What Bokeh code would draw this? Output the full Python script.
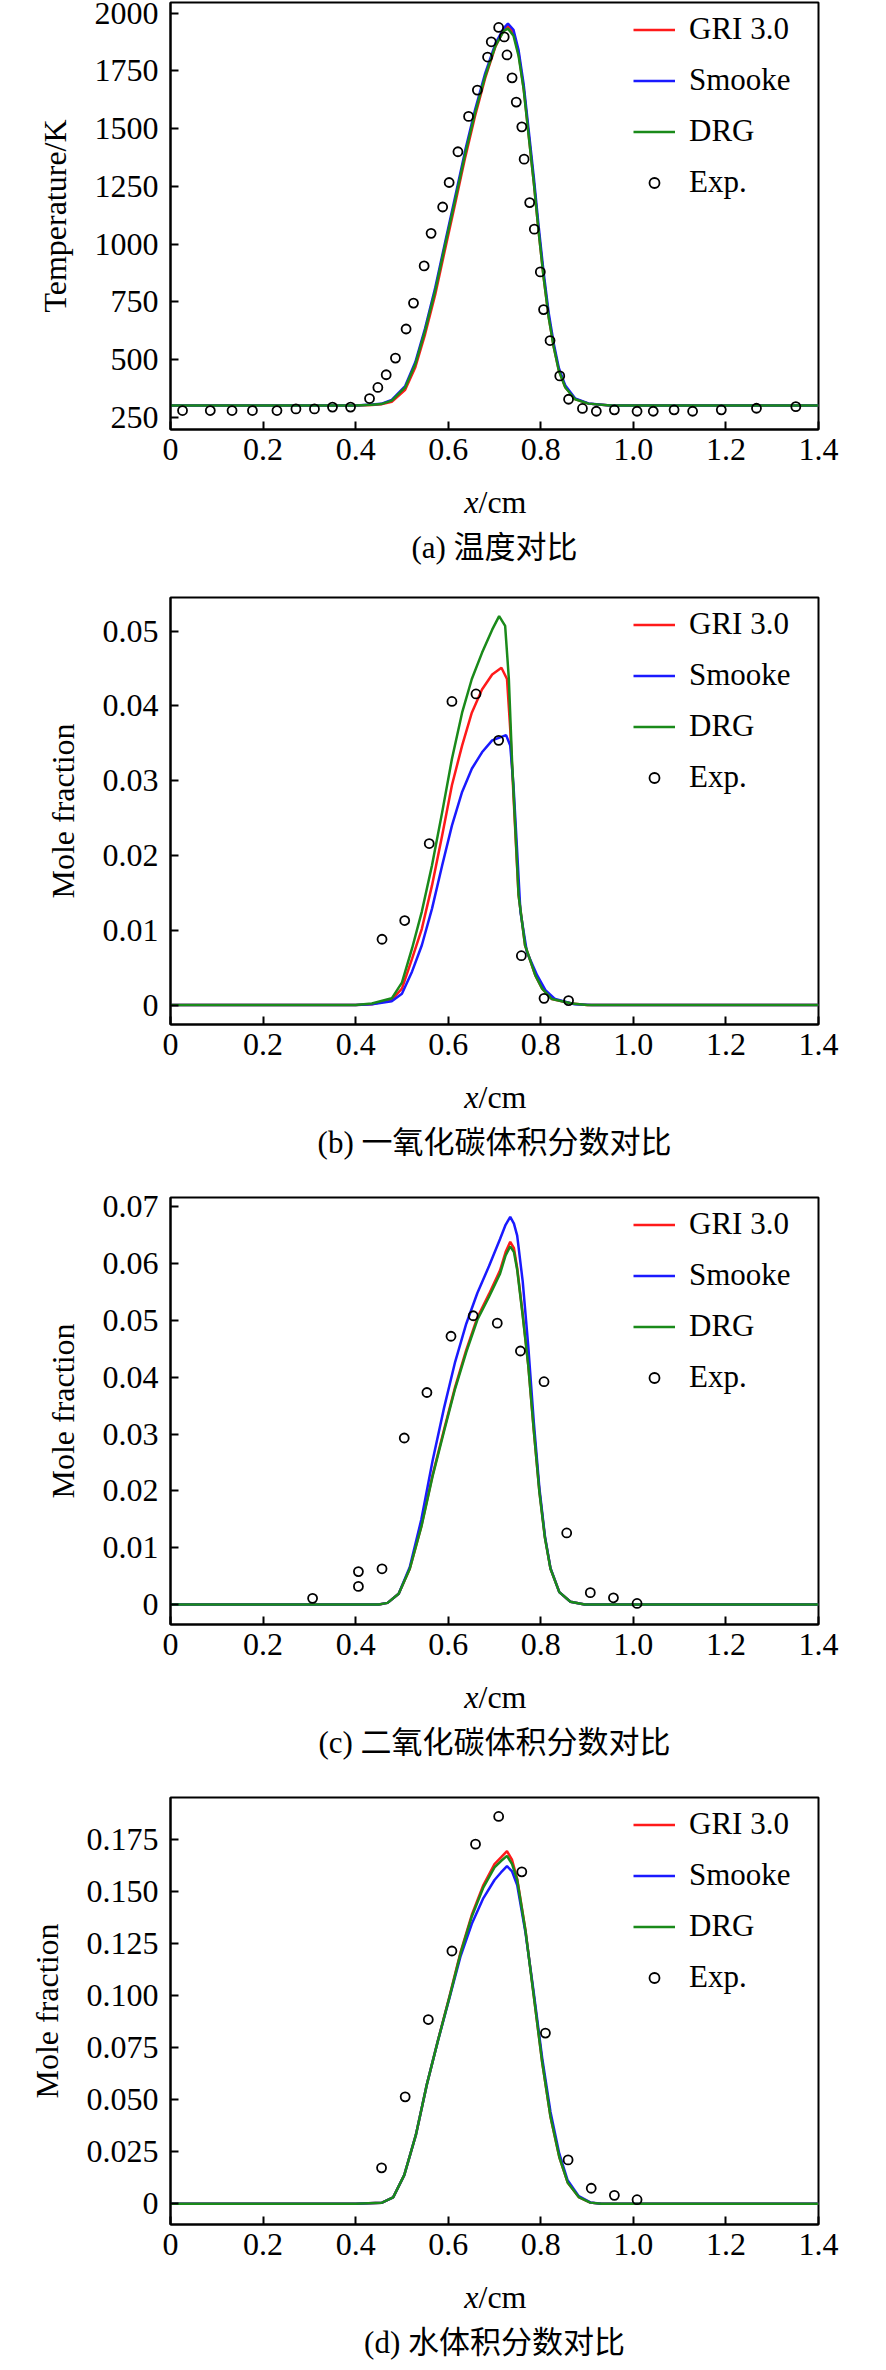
from bokeh.plotting import figure
from bokeh.layouts import column
from bokeh.models import FixedTicker, Range1d
from bokeh.core.properties import value
from bokeh.embed import file_html
from bokeh.resources import INLINE

# ---- (a) temperature ----
a_x = [0, 0.40, 0.435, 0.455, 0.478, 0.507, 0.529, 0.550, 0.572, 0.594, 0.615, 0.637, 0.658,
       0.680, 0.702, 0.720, 0.729, 0.741, 0.752, 0.763, 0.774, 0.785, 0.795, 0.806, 0.817,
       0.828, 0.839, 0.853, 0.874, 0.903, 0.95, 1.4]
a_gri = [302, 302, 304, 307, 318, 370, 468, 610, 782, 985, 1175, 1378, 1555, 1720, 1855, 1928,
         1945, 1915, 1825, 1675, 1470, 1266, 1062, 860, 686, 556, 454, 381, 330, 310, 302, 302]
a_smooke = [302, 302, 306, 309, 326, 386, 490, 636, 812, 1015, 1205, 1408, 1582, 1740, 1868,
            1935, 1955, 1928, 1840, 1692, 1490, 1288, 1085, 880, 704, 570, 464, 388, 333, 311,
            302, 302]
a_drg = [302, 302, 305, 308, 323, 380, 481, 626, 800, 1003, 1191, 1394, 1568, 1728, 1858, 1923,
         1933, 1902, 1815, 1670, 1467, 1264, 1061, 858, 684, 554, 452, 380, 329, 310, 302, 302]
a_exp_x = [0.026, 0.086, 0.133, 0.177, 0.230, 0.271, 0.311, 0.350, 0.389, 0.430, 0.448, 0.466,
           0.486, 0.509, 0.525, 0.548, 0.563, 0.588, 0.602, 0.621, 0.644, 0.663, 0.685, 0.693,
           0.709, 0.721, 0.727, 0.738, 0.747, 0.759, 0.764, 0.776, 0.786, 0.799, 0.806, 0.820,
           0.841, 0.860, 0.890, 0.920, 0.959, 1.008, 1.043, 1.088, 1.128, 1.190, 1.266, 1.351]
a_exp_y = [280, 280, 280, 280, 280, 287, 287, 295, 295, 332, 380, 435, 507, 633, 745, 906, 1047,
           1161, 1267, 1400, 1553, 1667, 1810, 1876, 1938, 1897, 1819, 1720, 1615, 1508, 1368,
           1180, 1065, 880, 717, 583, 430, 329, 289, 277, 283, 277, 277, 283, 277, 283, 290, 297]

# ---- (b) CO ----
b_x_gri = [0, 0.40, 0.435, 0.478, 0.500, 0.522, 0.543, 0.565, 0.587, 0.608, 0.630, 0.651, 0.673,
           0.695, 0.715, 0.727, 0.734, 0.741, 0.752, 0.766, 0.788, 0.803, 0.824, 0.867, 0.90, 1.4]
b_gri = [0, 0, 0.0001, 0.0007, 0.0022, 0.0062, 0.0102, 0.0160, 0.0227, 0.0294, 0.0347, 0.0391,
         0.0422, 0.0442, 0.0451, 0.0436, 0.0369, 0.0280, 0.0147, 0.0080, 0.0040, 0.0022, 0.0008,
         0.0002, 0, 0]
b_x_smooke = [0, 0.40, 0.435, 0.478, 0.500, 0.522, 0.543, 0.565, 0.587, 0.608, 0.630, 0.651,
              0.673, 0.695, 0.725, 0.734, 0.741, 0.749, 0.756, 0.770, 0.792, 0.810, 0.831, 0.873,
              0.91, 1.4]
b_smooke = [0, 0, 0.0001, 0.0005, 0.0015, 0.0045, 0.0080, 0.0129, 0.0187, 0.0240, 0.0285,
            0.0316, 0.0338, 0.0354, 0.0361, 0.0347, 0.0294, 0.0205, 0.0125, 0.0071, 0.0040,
            0.0020, 0.0008, 0.0001, 0, 0]
b_x_drg = [0, 0.40, 0.435, 0.478, 0.500, 0.522, 0.543, 0.565, 0.587, 0.608, 0.630, 0.651, 0.673,
           0.695, 0.710, 0.723, 0.731, 0.738, 0.745, 0.752, 0.766, 0.788, 0.803, 0.824, 0.867,
           0.90, 1.4]
b_drg = [0, 0, 0.0002, 0.0009, 0.0030, 0.0076, 0.0125, 0.0187, 0.0258, 0.0329, 0.0391, 0.0436,
         0.0471, 0.0502, 0.0520, 0.0507, 0.0436, 0.0325, 0.0236, 0.0147, 0.0080, 0.0040, 0.0022,
         0.0008, 0.0002, 0, 0]
b_exp_x = [0.457, 0.506, 0.559, 0.608, 0.660, 0.709, 0.758, 0.807, 0.860]
b_exp_y = [0.0088, 0.0113, 0.0216, 0.0406, 0.0416, 0.0354, 0.0066, 0.0009, 0.0006]

# ---- (c) CO2 ----
c_x = [0, 0.40, 0.45, 0.469, 0.493, 0.517, 0.542, 0.566, 0.591, 0.615, 0.639, 0.663, 0.688,
       0.712, 0.724, 0.734, 0.742, 0.749, 0.761, 0.773, 0.785, 0.797, 0.809, 0.821, 0.840,
       0.864, 0.895, 1.4]
c_gri = [0, 0, 0, 0.0003, 0.0019, 0.0063, 0.0138, 0.0227, 0.0308, 0.0383, 0.0448, 0.0505,
         0.0546, 0.0588, 0.0620, 0.0638, 0.0627, 0.0592, 0.0510, 0.0421, 0.0306, 0.0199, 0.0118,
         0.0063, 0.0022, 0.0005, 0, 0]
c_smooke = [0, 0, 0, 0.0003, 0.0019, 0.0066, 0.0150, 0.0252, 0.0346, 0.0427, 0.0494, 0.0548,
            0.0595, 0.0643, 0.0668, 0.0682, 0.0670, 0.0649, 0.0568, 0.0454, 0.0320, 0.0205,
            0.0120, 0.0064, 0.0022, 0.0005, 0, 0]
c_drg = [0, 0, 0, 0.0003, 0.0019, 0.0063, 0.0137, 0.0225, 0.0305, 0.0380, 0.0444, 0.0501,
         0.0541, 0.0582, 0.0614, 0.0630, 0.0620, 0.0589, 0.0508, 0.0420, 0.0305, 0.0198, 0.0117,
         0.0063, 0.0022, 0.0005, 0, 0]
c_exp_x = [0.307, 0.406, 0.406, 0.457, 0.505, 0.554, 0.606, 0.654, 0.706, 0.756, 0.807, 0.856,
           0.907, 0.957, 1.008]
c_exp_y = [0.0011, 0.0058, 0.0032, 0.0063, 0.0293, 0.0373, 0.0472, 0.0508, 0.0495, 0.0446,
           0.0392, 0.0126, 0.0021, 0.0012, 0.0002]

# ---- (d) H2O ----
d_x = [0, 0.40, 0.457, 0.481, 0.505, 0.530, 0.554, 0.578, 0.603, 0.627, 0.651, 0.676, 0.700,
       0.714, 0.727, 0.738, 0.749, 0.767, 0.785, 0.803, 0.821, 0.840, 0.858, 0.882, 0.907,
       0.931, 1.4]
d_gri = [0, 0, 0.0005, 0.0030, 0.0137, 0.0329, 0.0574, 0.0786, 0.0998, 0.1210, 0.1387, 0.1530,
         0.1630, 0.1662, 0.1692, 0.1650, 0.1560, 0.1312, 0.0996, 0.0680, 0.0417, 0.0224, 0.0102,
         0.0032, 0.0005, 0, 0]
d_smooke = [0, 0, 0.0005, 0.0030, 0.0137, 0.0329, 0.0574, 0.0784, 0.0990, 0.1190, 0.1344,
            0.1467, 0.1554, 0.1590, 0.1620, 0.1595, 0.1530, 0.1300, 0.1010, 0.0700, 0.0440,
            0.0240, 0.0112, 0.0036, 0.0006, 0, 0]
d_drg = [0, 0, 0.0005, 0.0030, 0.0137, 0.0329, 0.0574, 0.0784, 0.0994, 0.1204, 0.1379, 0.1519,
         0.1615, 0.1645, 0.1670, 0.1630, 0.1554, 0.1309, 0.0994, 0.0679, 0.0417, 0.0224, 0.0102,
         0.0032, 0.0005, 0, 0]
d_exp_x = [0.456, 0.507, 0.557, 0.608, 0.659, 0.709, 0.759, 0.810, 0.859, 0.909, 0.959, 1.008]
d_exp_y = [0.0172, 0.0513, 0.0884, 0.1213, 0.1726, 0.1859, 0.1593, 0.0819, 0.0210, 0.0074,
           0.0040, 0.0019]

x_ticks = [0, 0.2, 0.4, 0.6, 0.8, 1.0, 1.2, 1.4]
x_tick_labels = ["0", "0.2", "0.4", "0.6", "0.8", "1.0", "1.2", "1.4"]

a_ticks = [250, 500, 750, 1000, 1250, 1500, 1750, 2000]
b_ticks = [0, 0.01, 0.02, 0.03, 0.04, 0.05]
b_tick_labels = ["0", "0.01", "0.02", "0.03", "0.04", "0.05"]
c_ticks = [0, 0.01, 0.02, 0.03, 0.04, 0.05, 0.06, 0.07]
c_tick_labels = ["0", "0.01", "0.02", "0.03", "0.04", "0.05", "0.06", "0.07"]
d_ticks = [0, 0.025, 0.05, 0.075, 0.1, 0.125, 0.15, 0.175]
d_tick_labels = ["0", "0.025", "0.050", "0.075", "0.100", "0.125", "0.150", "0.175"]

SERIF = "Liberation Serif"
FS = "32px"
RED, BLUE, GREEN = "#ff1a1a", "#1a1aff", "#1a8a1a"
FRAME_W, FRAME_H = 648, 427
BORDER_L, BORDER_R, BORDER_B = 170, 60, 46
X_MAX = 1.4


def panel(y_range, y_ticks, y_labels, y_title, curves, exp_x, exp_y):
    p = figure(
        frame_width=FRAME_W,
        frame_height=FRAME_H,
        min_border_left=BORDER_L,
        min_border_right=BORDER_R,
        min_border_top=2,
        min_border_bottom=BORDER_B,
        x_range=Range1d(0, X_MAX),
        y_range=Range1d(*y_range),
        toolbar_location=None,
        tools="",
        output_backend="svg",
    )
    p.grid.visible = False
    p.outline_line_color = "black"
    p.outline_line_width = 2
    p.outline_line_alpha = 1

    for ax in (p.xaxis[0], p.yaxis[0]):
        ax.axis_line_width = 2
        ax.major_tick_line_width = 2
        ax.major_tick_in = 8
        ax.major_tick_out = 0
        ax.minor_tick_line_color = None
        ax.major_label_text_font = SERIF
        ax.major_label_text_font_size = FS
        ax.major_label_text_color = "black"

    p.xaxis.ticker = FixedTicker(ticks=x_ticks)
    p.xaxis.major_label_overrides = dict(zip(x_ticks, x_tick_labels))
    p.xaxis.major_label_standoff = 9

    p.yaxis.ticker = FixedTicker(ticks=y_ticks)
    p.yaxis.major_label_overrides = dict(zip(y_ticks, y_labels))
    p.yaxis.major_label_standoff = 12
    p.yaxis.axis_label = y_title
    p.yaxis.axis_label_text_font = SERIF
    p.yaxis.axis_label_text_font_size = "32px"
    p.yaxis.axis_label_text_font_style = "normal"
    p.yaxis.axis_label_text_color = "black"
    p.yaxis.axis_label_standoff = 19

    for name, cx, cy, color in curves:
        p.line(cx, cy, line_color=color, line_width=2.5, legend_label=name)
    p.scatter(exp_x, exp_y, marker="circle", size=9, fill_color=None, line_color="black",
              line_width=1.8, legend_label="Exp.")

    lg = p.legend[0]
    lg.location = (463, 229)
    lg.border_line_color = None
    lg.background_fill_alpha = 0
    lg.padding = 0
    lg.margin = 0
    lg.spacing = 15
    lg.glyph_width = 42
    lg.glyph_height = 25
    lg.label_height = 25
    lg.label_standoff = 14
    lg.label_text_font = SERIF
    lg.label_text_font_size = "31px"
    lg.label_text_color = "black"
    return p


def caption_strip(height, caption):
    # x-axis title (with italic x) and the panel caption; same horizontal frame as the plots
    c = figure(
        frame_width=FRAME_W,
        frame_height=height,
        min_border_left=BORDER_L,
        min_border_right=BORDER_R,
        min_border_top=0,
        min_border_bottom=0,
        x_range=Range1d(0, X_MAX),
        y_range=Range1d(height, 0),
        x_axis_type=None,
        y_axis_type=None,
        outline_line_color=None,
        toolbar_location=None,
        tools="",
        output_backend="svg",
    )
    split = X_MAX * 308 / FRAME_W
    c.text(x=[split], y=[26], text=["x"], text_font=value(SERIF),
           text_font_size=value("32px"), text_font_style=value("italic"),
           text_align=value("right"), text_baseline=value("middle"), text_color="black")
    c.text(x=[split], y=[26], text=["/cm"], text_font=value(SERIF),
           text_font_size=value("32px"), text_align=value("left"),
           text_baseline=value("middle"), text_color="black")
    c.text(x=[X_MAX / 2], y=[72], text=[caption], text_font=value(SERIF + ", Noto Sans CJK SC"),
           text_font_size=value("31px"), text_align=value("center"),
           text_baseline=value("middle"), text_color="black")
    return c


pa = panel((198, 2046), a_ticks, [str(t) for t in a_ticks], "Temperature/K",
           [("GRI 3.0", a_x, a_gri, RED), ("Smooke", a_x, a_smooke, BLUE),
            ("DRG", a_x, a_drg, GREEN)], a_exp_x, a_exp_y)
pb = panel((-0.0026, 0.0545), b_ticks, b_tick_labels, "Mole fraction",
           [("GRI 3.0", b_x_gri, b_gri, RED), ("Smooke", b_x_smooke, b_smooke, BLUE),
            ("DRG", b_x_drg, b_drg, GREEN)], b_exp_x, b_exp_y)
pc = panel((-0.0035, 0.0716), c_ticks, c_tick_labels, "Mole fraction",
           [("GRI 3.0", c_x, c_gri, RED), ("Smooke", c_x, c_smooke, BLUE),
            ("DRG", c_x, c_drg, GREEN)], c_exp_x, c_exp_y)
pd_ = panel((-0.010, 0.195), d_ticks, d_tick_labels, "Mole fraction",
            [("GRI 3.0", d_x, d_gri, RED), ("Smooke", d_x, d_smooke, BLUE),
             ("DRG", d_x, d_drg, GREEN)], d_exp_x, d_exp_y)

p = column(
    pa, caption_strip(120, "(a) 温度对比"),
    pb, caption_strip(125, "(b) 一氧化碳体积分数对比"),
    pc, caption_strip(125, "(c) 二氧化碳体积分数对比"),
    pd_, caption_strip(92, "(d) 水体积分数对比"),
    spacing=0,
)

open("out.html", "w").write(file_html(p, INLINE))
